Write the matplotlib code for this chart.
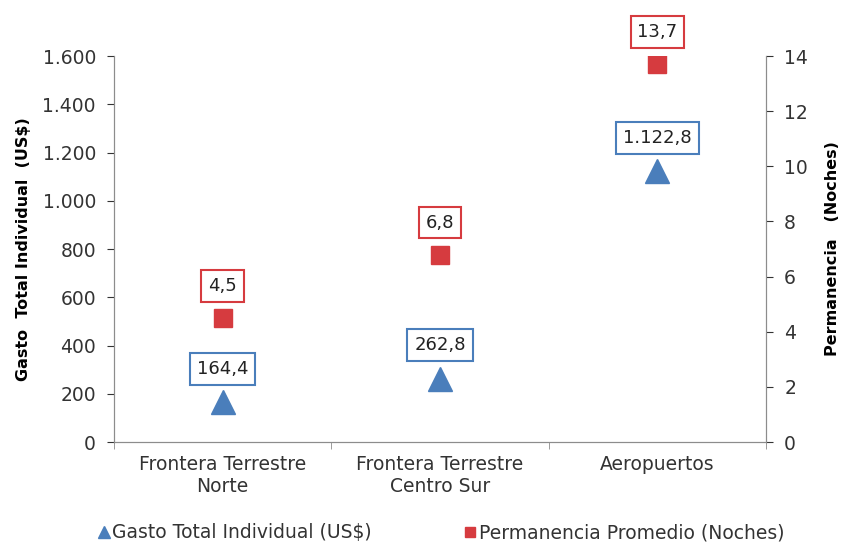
import matplotlib
matplotlib.use('Agg')
import matplotlib.pyplot as plt
from matplotlib.ticker import FuncFormatter, FixedLocator

# %% data
categories = ['Frontera Terrestre\nNorte', 'Frontera Terrestre\nCentro Sur', 'Aeropuertos']
gasto = [164.4, 262.8, 1122.8]
noches = [4.5, 6.8, 13.7]
gasto_labels = ['164,4', '262,8', '1.122,8']
noches_labels = ['4,5', '6,8', '13,7']

blue = '#4A7EBB'
red = '#D63B3F'
gray = '#8C8C8C'
fs = 13.5

# %% plot
fig = plt.figure(figsize=(8.41, 5.48), dpi=100)
ax = fig.add_axes([0.1356, 0.1934, 0.7754, 0.7044])
ax2 = ax.twinx()

x = list(range(len(categories)))
ax.plot(x, gasto, linestyle='none', marker='^', markersize=17, color=blue,
        label='Gasto Total Individual (US$)')
ax2.plot(x, noches, linestyle='none', marker='s', markersize=13.5, color=red,
         label='Permanencia Promedio (Noches)')

for xi, v, t in zip(x, gasto, gasto_labels):
    ax.annotate(t, (xi, v), xytext=(0, 24), textcoords='offset points',
                ha='center', va='center', fontsize=13, color='#222222',
                bbox=dict(boxstyle='square,pad=0.38', fc='white', ec=blue, lw=1.5))
for xi, v, t in zip(x, noches, noches_labels):
    ax2.annotate(t, (xi, v), xytext=(0, 23), textcoords='offset points',
                 ha='center', va='center', fontsize=13, color='#222222',
                 bbox=dict(boxstyle='square,pad=0.38', fc='white', ec=red, lw=1.5))

ax.set_xlim(-0.5, 2.5)
ax.set_ylim(0, 1600)
ax2.set_ylim(0, 14)
ax.set_yticks(range(0, 1601, 200))
ax2.set_yticks(range(0, 15, 2))
ax.yaxis.set_major_formatter(FuncFormatter(lambda v, p: f'{int(v):,}'.replace(',', '.')))

ax.set_xticks(x)
ax.set_xticklabels(categories, fontsize=fs, color='#333333')
ax.tick_params(axis='x', which='major', length=0, pad=9)
ax.xaxis.set_minor_locator(FixedLocator([-0.5, 0.5, 1.5, 2.5]))
ax.tick_params(axis='x', which='minor', length=5, color=gray)

ax.tick_params(axis='y', labelsize=fs, colors='#333333', length=5, pad=8)
ax2.tick_params(axis='y', labelsize=fs, colors='#333333', length=5, pad=8)
for t in ax.yaxis.get_ticklines() + ax2.yaxis.get_ticklines():
    t.set_color(gray)

for a in (ax, ax2):
    a.spines['top'].set_visible(False)
    for s in ('left', 'right', 'bottom'):
        a.spines[s].set_color(gray)

ax.set_ylabel('Gasto  Total Individual  (US$)', fontsize=11.5, fontweight='bold', labelpad=8)
ax2.set_ylabel('Permanencia   (Noches)', fontsize=11.5, fontweight='bold', labelpad=12)

h1, l1 = ax.get_legend_handles_labels()
h2, l2 = ax2.get_legend_handles_labels()
leg = fig.legend(h1 + h2, l1 + l2, loc='lower center', ncol=2, frameon=False,
                 fontsize=fs, bbox_to_anchor=(0.525, -0.02), handlelength=0.5,
                 handletextpad=0.2, columnspacing=5.0, markerscale=0.55)
for t in leg.get_texts():
    t.set_color('#333333')

fig.savefig('out.png', dpi=100)
